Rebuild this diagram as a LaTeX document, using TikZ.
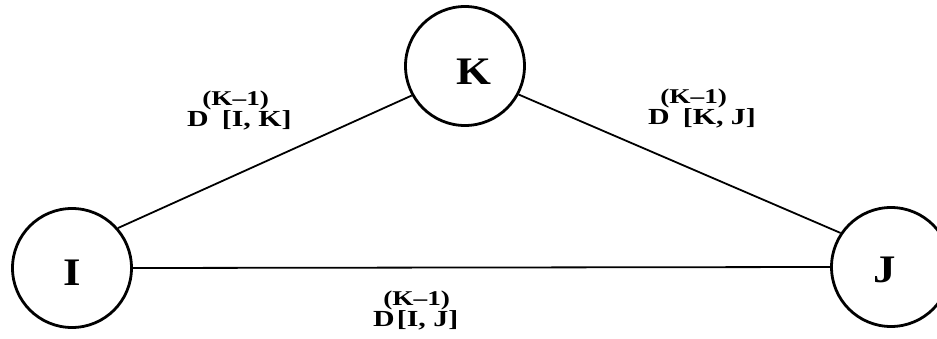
\documentclass[tikz,border=0pt]{standalone}
\usepackage{fontspec}
\setmainfont{Liberation Serif}[FakeStretch=1.15]
\newfontfamily\labfont{Liberation Serif}[FakeStretch=1.3]
\newcommand\Dlab[3]{D\rlap{\hspace{#1}\raisebox{21pt}{\fontsize{21}{21}\selectfont(K–1)}}\hspace{#2}#3}
\begin{document}
\begin{tikzpicture}[x=1pt,y=-1pt,
  ring/.style={circle,draw,line width=2.8pt,minimum size=119pt,inner sep=0pt},
  edge/.style={line width=1.8pt},
  letter/.style={font=\fontsize{39}{39}\selectfont\bfseries,inner sep=0pt,anchor=base},
  lab/.style={font=\labfont\fontsize{23}{23}\selectfont\bfseries,inner sep=0pt,anchor=base west}]
\useasboundingbox (0,0) rectangle (937,339);
\clip (0,0) rectangle (937,339);
\node[ring] (I) at (72,268) {};
\node[ring] (K) at (465,66) {};
\node[ring] (J) at (891,267) {};
\node[letter] (Il) at (72,285) {I};
\node[letter] (Kl) at (474,85) {K};
\node[letter] (Jl) at (885,282) {J};
\draw[edge] (I.41) -- (K.209);
\draw[edge] (K.332) -- (J.146);
\draw[edge] (I.0) -- (J.180);
\node[lab] (L1) at (187,127) {\Dlab{-6.5pt}{13pt}{[I, K]}};
\node[lab] (L2) at (648,125) {\Dlab{-9.5pt}{13pt}{[K, J]}};
\node[lab] (L3) at (373,326) {\Dlab{-11.5pt}{2pt}{[I, J]}};
\end{tikzpicture}
\end{document}
